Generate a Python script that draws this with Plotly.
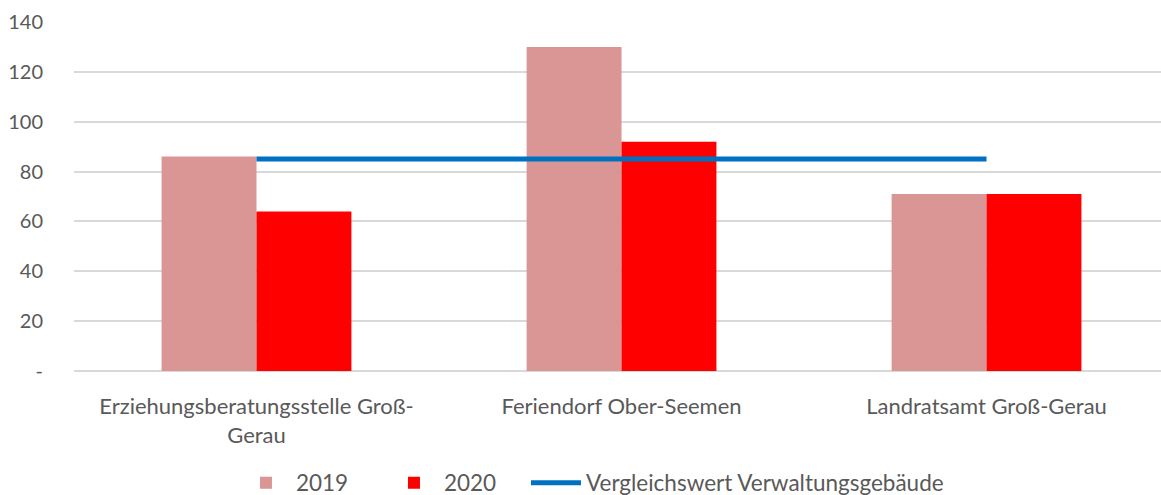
import plotly.graph_objects as go

categories = ["Erziehungsberatungsstelle Groß-<br>Gerau", "Feriendorf Ober-Seemen", "Landratsamt Groß-Gerau"]
values_2019 = [86, 130, 71]
values_2020 = [64, 92, 71]
benchmark = [85, 85, 85]
tick_vals = [0, 20, 40, 60, 80, 100, 120, 140]
tick_text = ["-", "20", "40", "60", "80", "100", "120", "140"]

FONT = "Lato"
TXT = "#595959"

fig = go.Figure()
fig.add_bar(x=categories, y=values_2019, name="2019", legendwidth=83,
            marker=dict(color="#D99694", line=dict(width=0)))
fig.add_bar(x=categories, y=values_2020, name="2020", legendwidth=77,
            marker=dict(color="#FF0000", line=dict(width=0)))
fig.add_scatter(x=categories, y=benchmark, name="Vergleichswert Verwaltungsgebäude", mode="lines",
                legendwidth=380, line=dict(color="#0070C0", width=5))

fig.update_layout(
    width=1161, height=495,
    margin=dict(l=74, r=0, t=22, b=124),
    plot_bgcolor="white", paper_bgcolor="white",
    barmode="group", bargap=0.48, bargroupgap=0,
    font=dict(family=FONT, size=21, color=TXT),
    showlegend=True,
    legend=dict(orientation="h", x=0.149, xanchor="left", yref="container", y=0.0242, yanchor="middle",
                font=dict(family=FONT, size=22.5, color=TXT), itemwidth=50,
                entrywidthmode="pixels", traceorder="normal"),
    xaxis=dict(type="category", range=[-0.5, 2.478], showgrid=False, showline=False, ticks="",
               automargin=False, tickfont=dict(family=FONT, size=22, color=TXT), ticklabelstandoff=20),
    yaxis=dict(range=[0, 140], tickvals=tick_vals, ticktext=tick_text, showgrid=True,
               gridcolor="#D9D9D9", gridwidth=1.5, zeroline=True, zerolinecolor="#D9D9D9", zerolinewidth=1.5,
               showline=False, ticks="", automargin=False,
               tickfont=dict(family=FONT, size=20, color=TXT), ticklabelstandoff=30),
)

fig.write_html("out.html", config={"displayModeBar": False},
               post_script="document.body.style.margin='0';document.body.style.overflow='hidden';")
